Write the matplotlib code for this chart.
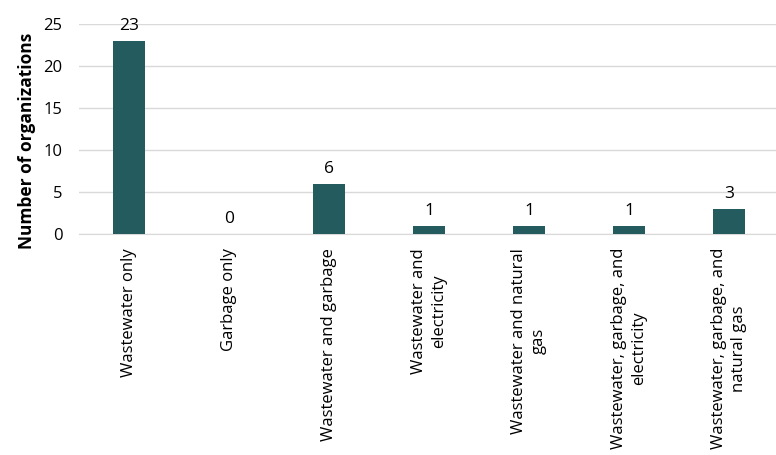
import matplotlib.pyplot as plt

categories = ['Wastewater only',
              'Garbage only',
              'Wastewater and garbage',
              'Wastewater and\nelectricity',
              'Wastewater and natural\ngas',
              'Wastewater, garbage, and\nelectricity',
              'Wastewater, garbage, and\nnatural gas']
counts = [23, 0, 6, 1, 1, 1, 3]

plt.rcParams['font.family'] = ['Open Sans', 'DejaVu Sans']

fig = plt.figure(figsize=(7.76, 4.55), dpi=100)
ax = fig.add_axes([79 / 776, 1 - 234 / 455, 700 / 776, 210 / 455])

x = range(len(categories))
bars = ax.bar(x, counts, width=0.32, color='#235B5F', zorder=3)
for xi, v in zip(x, counts):
    ax.text(xi, v + 0.8, str(v), ha='center', va='bottom', fontsize=12.5)

ax.set_xlim(-0.5, len(categories) - 0.5)
ax.set_ylim(0, 25)
ax.set_yticks([0, 5, 10, 15, 20, 25])
ax.yaxis.grid(True, color='#D9D9D9', linewidth=1, zorder=0)
ax.set_xticks(list(x))
ax.set_xticklabels(categories, rotation=90, ha='center', va='top',
                   multialignment='center', fontsize=12, linespacing=1.3)
ax.tick_params(axis='both', length=0, pad=10)
ax.tick_params(axis='y', pad=12, labelsize=12)
for s in ['top', 'right', 'left']:
    ax.spines[s].set_visible(False)
ax.spines['bottom'].set_color('#D9D9D9')
ax.set_ylabel('Number of organizations', fontsize=12.5, fontweight='bold', va='center')
ax.yaxis.set_label_coords(-0.074, 0.443)

fig.savefig('out.png')
